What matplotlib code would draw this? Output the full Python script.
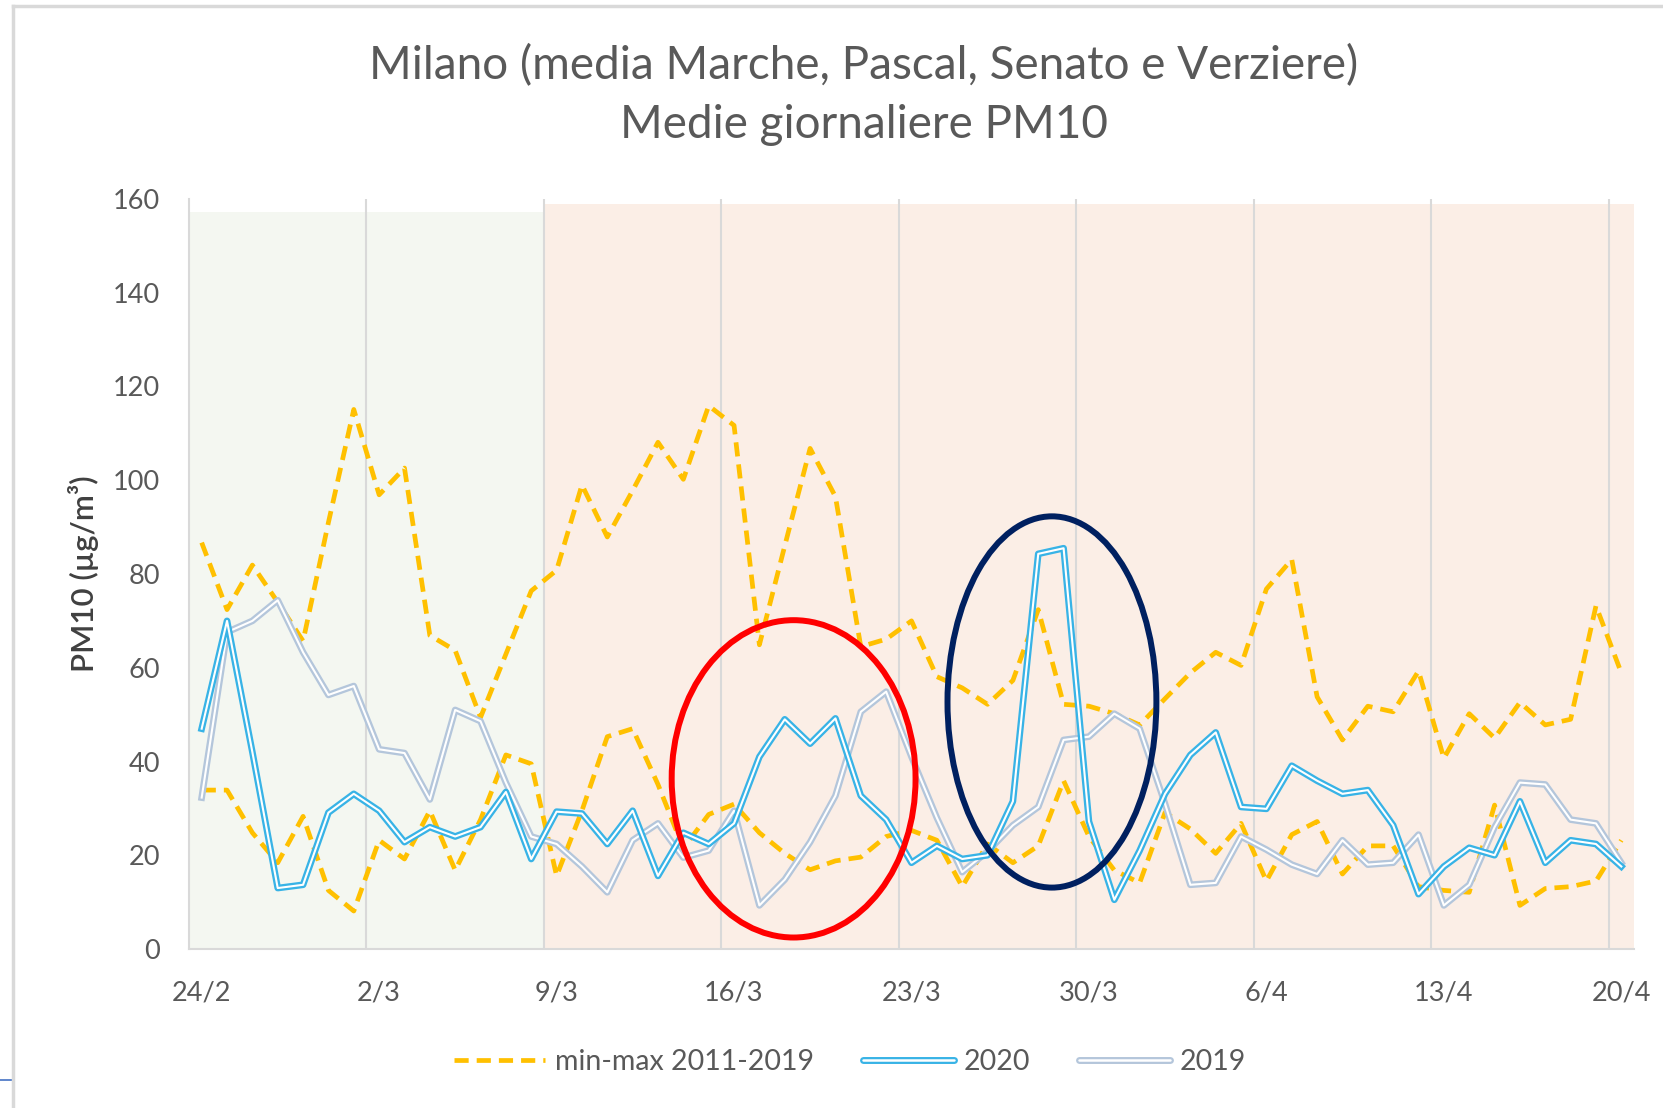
import matplotlib
matplotlib.use("Agg")
import matplotlib.pyplot as plt
from matplotlib.patches import Ellipse, Rectangle
from matplotlib.lines import Line2D
from matplotlib.legend_handler import HandlerTuple

W, H, DPI = 1663, 1108, 100
plt.rcParams["font.family"] = ["Lato", "DejaVu Sans"]

# ---------------- data ----------------
tick_labels = ["24/2", "2/3", "9/3", "16/3", "23/3", "30/3", "6/4", "13/4", "20/4"]
days = list(range(57))  # 24/2 ... 20/4 (2020)

pm_max = [86.7, 72.4, 81.9, 74.0, 65.7, 91.0, 115.1, 96.9, 102.6, 66.9,
          63.7, 49.4, 62.9, 76.4, 80.8, 99.0, 87.9, 97.8, 108.1, 100.2,
          115.9, 111.7, 64.9, 86.0, 106.8, 96.5, 64.5, 66.1, 70.0, 58.1,
          55.7, 52.2, 57.3, 72.4, 52.2, 51.8, 50.2, 47.8, 53.4, 58.9,
          63.3, 60.5, 76.8, 83.1, 53.8, 44.6, 51.8, 50.6, 59.3, 40.7,
          50.2, 45.0, 52.6, 47.8, 49.0, 73.2, 58.9]
pm_min = [33.9, 33.9, 24.8, 18.4, 28.3, 12.5, 8.1, 23.2, 19.2, 29.5,
          16.8, 27.6, 41.4, 39.5, 15.6, 29.5, 45.3, 47.0, 35.1, 21.5,
          28.7, 30.9, 24.8, 20.4, 16.9, 18.8, 19.6, 24.0, 25.3, 23.2,
          13.3, 22.4, 18.4, 22.0, 35.9, 24.0, 16.8, 14.1, 29.1, 25.6,
          20.4, 26.8, 14.5, 24.4, 27.2, 16.0, 22.0, 22.0, 13.3, 12.5,
          12.1, 30.7, 9.3, 12.9, 13.3, 14.5, 23.2]
pm_2020 = [47.0, 70.0, 42.0, 13.0, 13.7, 29.1, 33.1, 29.5, 22.8, 26.0,
           24.0, 26.0, 33.5, 19.2, 29.3, 28.9, 22.4, 29.5, 15.6, 24.8,
           22.4, 26.8, 41.0, 49.0, 43.8, 49.2, 32.7, 27.6, 18.4, 22.0,
           19.2, 20.0, 31.5, 84.3, 85.5, 27.2, 10.5, 21.0, 33.1, 41.4,
           46.2, 30.3, 29.9, 39.1, 35.9, 33.1, 33.9, 26.4, 11.7, 17.6,
           21.6, 20.0, 31.5, 18.4, 23.2, 22.4, 17.6]
pm_2019 = [32.3, 67.6, 70.0, 74.4, 63.3, 54.2, 56.1, 42.6, 41.8, 31.9,
           51.0, 48.6, 35.5, 24.0, 22.4, 17.6, 12.1, 23.2, 26.8, 19.5,
           21.0, 29.5, 9.3, 14.8, 22.8, 32.7, 50.6, 54.9, 41.0, 28.0,
           16.4, 20.8, 26.4, 30.3, 44.6, 45.3, 50.2, 47.0, 31.0, 13.7,
           14.1, 24.0, 21.2, 18.0, 16.0, 23.2, 18.0, 18.4, 24.4, 9.3,
           13.7, 26.0, 35.5, 35.1, 27.6, 26.8, 18.4]
lockdown_start = 14  # 9/3

# ---------------- style ----------------
TXT = "#595959"
GRID = "#D9D9D9"
YEL = "#FFC000"
C20 = "#38B3E6"
C19 = "#B4C6DB"

fig = plt.figure(figsize=(W / DPI, H / DPI), dpi=DPI)
ax = fig.add_axes([189 / W, 1 - 949 / H, (1634 - 189) / W, 750 / H])
ax.set_xlim(-0.5, len(days) - 0.5)
ax.set_ylim(0, 160)
ax.patch.set_alpha(0)

# background phases
ax.add_patch(Rectangle((-0.5, 0), lockdown_start, 157.3, fc="#F4F7F1", ec="none", zorder=0))
ax.add_patch(Rectangle((lockdown_start - 0.5, 0), len(days) - lockdown_start, 158.9,
                       fc="#FBEEE6", ec="none", zorder=0))

# axes / grid
ax.set_xticks(range(0, len(days), 7))
ax.set_xticklabels(tick_labels)
ax.set_xticks([i - 0.5 for i in range(7, len(days), 7)], minor=True)
ax.grid(True, which="minor", axis="x", color=GRID, lw=1.5)
ax.set_yticks(range(0, 161, 20))
ax.tick_params(which="both", length=0)
ax.tick_params(axis="x", pad=23, labelsize=19.5, labelcolor=TXT)
ax.tick_params(axis="y", pad=21, labelsize=19.5, labelcolor=TXT)
for s in ("top", "right"):
    ax.spines[s].set_visible(False)
for s in ("left", "bottom"):
    ax.spines[s].set_color(GRID)
    ax.spines[s].set_linewidth(1.5)

ax.set_ylabel("PM10 (µg/m³)", fontsize=22.5, color="#404040", fontweight="semibold")
ax.yaxis.label.set_va("center")
ax.yaxis.set_label_coords((83 - 189) / (1634 - 189), 0.5)

# series
ax.plot(days, pm_max, color=YEL, lw=3.4, dashes=(3.0, 1.7), zorder=2)
ax.plot(days, pm_min, color=YEL, lw=3.4, dashes=(3.0, 1.7), zorder=2)
ax.plot(days, pm_2019, color=C19, lw=4.8, zorder=3)
ax.plot(days, pm_2019, color="white", lw=1.5, zorder=3.1)
ax.plot(days, pm_2020, color=C20, lw=4.8, zorder=4)
ax.plot(days, pm_2020, color="white", lw=1.5, zorder=4.1)

# highlight ellipses
ax.add_patch(Ellipse((23.35, 36.3), 9.62, 67.7, fill=False, ec="#FF0000", lw=4.3,
                     zorder=6, clip_on=False))
ax.add_patch(Ellipse((33.54, 52.7), 8.24, 79.2, fill=False, ec="#002060", lw=4.3,
                     zorder=6, clip_on=False))

# legend
h_max = Line2D([], [], color=YEL, lw=3.4, dashes=(3.0, 1.7))
h20 = (Line2D([], [], color=C20, lw=5.0, solid_capstyle="round"),
       Line2D([], [], color="white", lw=1.8, solid_capstyle="round"))
h19 = (Line2D([], [], color=C19, lw=5.0, solid_capstyle="round"),
       Line2D([], [], color="white", lw=1.8, solid_capstyle="round"))
fig.legend([h_max, h20, h19], ["min-max 2011-2019", "2020", "2019"],
           handler_map={tuple: HandlerTuple(ndivide=1, pad=0)},
           loc="center", bbox_to_anchor=(850 / W, 1 - 1062 / H), ncol=3,
           frameon=False, fontsize=20.5, handlelength=3.2, handletextpad=0.35,
           columnspacing=1.7, labelcolor=TXT)

# titles
fig.text(864 / W, 1 - 66 / H, "Milano (media Marche, Pascal, Senato e Verziere)",
         ha="center", va="center", fontsize=33, color=TXT)
fig.text(864 / W, 1 - 125 / H, "Medie giornaliere PM10",
         ha="center", va="center", fontsize=33, color=TXT)

# chart-area border (cropped)
fig.add_artist(Line2D([13 / W, 1], [1 - 6 / H, 1 - 6 / H], transform=fig.transFigure,
                      color=GRID, lw=2.5))
fig.add_artist(Line2D([13 / W, 13 / W], [0, 1 - 6 / H], transform=fig.transFigure,
                      color=GRID, lw=2.5))
fig.add_artist(Line2D([0, 11 / W], [1 - 1080 / H, 1 - 1080 / H], transform=fig.transFigure,
                      color="#4472C4", lw=1.2))

fig.savefig("out.png", dpi=DPI)
